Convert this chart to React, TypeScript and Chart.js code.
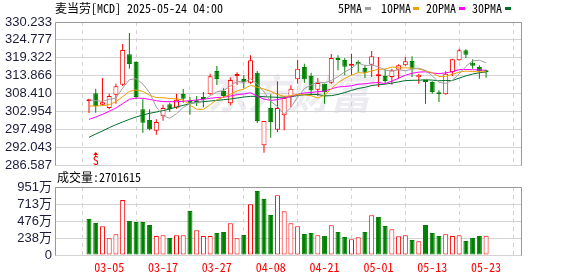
import React, { useEffect, useRef } from "react";
import { Chart, registerables } from "chart.js";

Chart.register(...registerables);

const dates = [
  "02-28", "03-03", "03-04", "03-05", "03-06", "03-07", "03-10", "03-11", "03-12", "03-13",
  "03-14", "03-17", "03-18", "03-19", "03-20", "03-21", "03-24", "03-25", "03-26", "03-27",
  "03-28", "03-31", "04-01", "04-02", "04-03", "04-04", "04-07", "04-08", "04-09", "04-10",
  "04-11", "04-14", "04-15", "04-16", "04-17", "04-21", "04-22", "04-23", "04-24", "04-25",
  "04-28", "04-29", "04-30", "05-01", "05-02", "05-05", "05-06", "05-07", "05-08", "05-09",
  "05-12", "05-13", "05-14", "05-15", "05-16", "05-19", "05-20", "05-21", "05-22", "05-23",
];

const opens = [
  306.02, 308.46, 305.0, 303.98, 308.05, 311.11, 320.36, 318.02, 303.58, 300.32,
  297.07, 301.44, 305.1, 304.09, 308.26, 306.12, 305.92, 306.93, 308.16, 315.28,
  309.17, 305.41, 313.75, 312.84, 311.72, 314.77, 292.59, 303.98, 297.37, 301.75,
  307.24, 312.73, 316.5, 313.75, 309.58, 311.41, 311.72, 318.84, 318.63, 316.9,
  318.02, 316.19, 317.21, 313.65, 313.75, 313.45, 315.68, 317.01, 318.33, 313.34,
  312.33, 311.92, 308.46, 308.16, 314.97, 318.53, 321.59, 317.82, 316.5, 315.07,
];
const highs = [
  306.83, 309.88, 313.14, 308.36, 311.41, 323.52, 326.87, 318.23, 306.63, 303.58,
  300.52, 305.0, 305.61, 308.36, 309.78, 307.24, 307.65, 308.87, 314.46, 316.8,
  309.99, 313.34, 314.87, 314.06, 320.06, 315.28, 300.02, 308.16, 312.12, 307.65,
  310.9, 318.74, 317.52, 314.77, 313.14, 311.41, 320.47, 320.06, 319.24, 320.57,
  318.53, 317.21, 321.38, 319.55, 315.99, 315.99, 317.31, 319.55, 319.75, 314.46,
  312.33, 312.12, 309.38, 315.17, 319.04, 322.09, 321.89, 318.84, 317.01, 315.68,
];
const lows = [
  302.46, 302.56, 304.8, 303.58, 305.31, 310.7, 315.99, 306.63, 296.46, 297.17,
  295.84, 300.12, 302.76, 303.78, 305.61, 301.95, 304.59, 304.19, 308.05, 311.0,
  307.24, 304.8, 311.0, 309.99, 311.41, 299.41, 290.35, 294.93, 296.66, 297.17,
  304.29, 311.41, 311.72, 308.05, 307.65, 305.31, 311.41, 315.48, 313.95, 313.95,
  314.77, 313.14, 313.45, 310.39, 311.41, 311.11, 312.94, 316.7, 313.45, 311.41,
  305.31, 308.36, 305.82, 308.05, 313.75, 318.43, 319.24, 315.99, 312.94, 313.24,
];
const closes = [
  306.63, 304.59, 305.71, 307.65, 310.6, 321.69, 317.41, 307.34, 299.51, 297.47,
  299.71, 303.98, 303.58, 306.53, 306.83, 305.61, 305.71, 306.73, 313.65, 312.84,
  307.65, 312.53, 313.95, 311.82, 318.53, 300.02, 300.02, 299.71, 303.98, 307.03,
  309.88, 315.99, 312.73, 309.38, 311.62, 308.87, 319.24, 318.63, 316.6, 317.11,
  317.31, 314.77, 319.75, 313.85, 312.23, 315.48, 317.01, 318.23, 315.99, 314.16,
  311.92, 308.87, 308.16, 314.46, 318.84, 321.59, 320.26, 316.9, 315.17, 314.87,
];

const ma5 = [
  306.43, 306.22, 306.02, 306.63, 307.04, 310.05, 312.61, 312.94, 311.31, 308.68,
  304.29, 301.6, 300.85, 302.25, 304.13, 305.31, 305.65, 306.28, 307.71, 308.91,
  309.32, 310.68, 312.12, 311.76, 312.9, 311.37, 308.87, 306.02, 304.45, 302.15,
  304.12, 307.32, 309.92, 311.0, 311.92, 311.72, 312.37, 313.55, 314.99, 316.09,
  317.78, 316.88, 317.11, 316.56, 315.58, 315.22, 315.66, 315.36, 315.79, 316.17,
  315.46, 313.83, 311.82, 311.51, 312.45, 314.38, 316.66, 318.41, 318.55, 317.76,
];
const ma10 = [
  304.59, 304.59, 304.69, 305.0, 305.92, 307.44, 309.07, 309.48, 309.07, 307.86,
  307.17, 307.11, 306.89, 306.78, 306.41, 304.8, 303.63, 303.57, 304.98, 306.52,
  307.31, 308.17, 309.2, 309.73, 310.9, 310.34, 309.77, 309.07, 308.11, 307.52,
  307.75, 308.09, 307.97, 307.73, 307.04, 307.92, 309.84, 311.74, 313.0, 314.01,
  314.75, 314.63, 315.33, 315.78, 315.84, 316.5, 316.27, 316.23, 316.17, 315.88,
  315.34, 314.75, 313.59, 313.65, 314.31, 314.92, 315.25, 315.12, 315.03, 315.1,
];
const ma20 = [
  300.52, 301.24, 302.05, 302.97, 303.98, 305.31, 306.63, 307.03, 306.93, 306.63,
  306.22, 305.92, 305.92, 305.92, 306.02, 306.22, 306.43, 306.63, 306.93, 307.19,
  307.24, 307.64, 308.05, 308.26, 308.65, 307.57, 306.7, 306.32, 306.54, 307.02,
  307.53, 308.13, 308.59, 308.73, 308.97, 309.13, 309.81, 310.4, 310.55, 310.76,
  311.25, 311.36, 311.65, 311.75, 311.44, 312.21, 313.06, 313.98, 314.59, 314.94,
  315.04, 314.69, 314.46, 314.71, 315.07, 315.71, 315.76, 315.67, 315.6, 315.49,
];
const ma30 = [
  295.03, 296.05, 296.96, 297.98, 298.9, 299.71, 300.52, 301.24, 301.85, 302.36,
  302.76, 303.17, 303.68, 304.29, 304.8, 305.31, 305.71, 305.92, 306.12, 306.32,
  306.53, 306.73, 307.03, 307.34, 307.54, 307.54, 307.44, 307.34, 307.24, 307.3,
  307.41, 307.79, 308.02, 308.08, 308.11, 307.69, 307.75, 308.12, 308.69, 309.35,
  309.94, 310.3, 310.83, 311.08, 311.26, 311.59, 311.96, 312.35, 312.43, 312.47,
  312.61, 312.49, 312.3, 312.38, 312.39, 313.11, 313.79, 314.36, 314.73, 315.0,
];

const volumes = [
  5030000, 4480000, 4010000, 2330000, 2890000, 7690000, 4750000, 4610000, 4610000, 4200000,
  2660000, 2750000, 2380000, 2750000, 2750000, 6150000, 3450000, 2660000, 2660000, 3080000,
  3220000, 4430000, 2330000, 2800000, 7090000, 8950000, 7830000, 5590000, 8340000, 6110000,
  4450000, 4010000, 2940000, 3080000, 2750000, 2660000, 4150000, 3220000, 2520000, 2190000,
  2470000, 3220000, 5550000, 5310000, 4060000, 3590000, 2610000, 2750000, 2100000, 1910000,
  4200000, 3080000, 2660000, 2890000, 2660000, 2750000, 1960000, 2380000, 2660000, 2701615,
];
// 1 = red (hollow), 0 = green (filled)
const volumeRed = [
  0, 0, 1, 1, 1, 1, 0, 0, 0, 0,
  1, 1, 0, 1, 1, 0, 1, 1, 1, 0,
  0, 1, 1, 0, 1, 0, 0, 0, 1, 1,
  1, 1, 0, 0, 1, 0, 1, 0, 0, 1,
  1, 0, 1, 0, 0, 1, 1, 1, 0, 1,
  0, 0, 0, 1, 1, 1, 0, 0, 0, 1,
];

const priceTicks = [286.587, 292.043, 297.498, 302.954, 308.41, 313.866, 319.322, 324.777, 330.233];
const volumeTicks = [0, 2377500, 4755000, 7132500, 9510000];
const volumeTickLabels = ["0", "238万", "476万", "713万", "951万"];
const xTickIndex = [3, 11, 19, 27, 35, 43, 51, 59];
const legendItems = ["5PMA", "10PMA", "20PMA", "30PMA"];
const titleText = "麦当劳[MCD] 2025-05-24 04:00";
const volumeTitle = "成交量:2701615";
const signalIndex = 1;

const RED = "#ff0000";
const GREEN = "#008000";
const MA_COLORS = ["#a0a0a0", "#f0a000", "#ff00ff", "#006f2c"];
const GRID = "#d3d3d3";
const FRAME = "#999999";
const X_MIN = -0.715;
const X_MAX = 60.0;
const MONO = '"Noto Sans Mono CJK SC", "Noto Sans CJK SC", monospace';
const AXIS_FONT = '"Liberation Sans", "Noto Sans CJK SC", sans-serif';

const framePlugin = {
  id: "frame",
  beforeDatasetsDraw(chart: any, _a: any, opts: any) {
    if (!opts || !opts.watermark) return;
    const { ctx, chartArea } = chart;
    ctx.save();
    ctx.beginPath();
    ctx.rect(chartArea.left, chartArea.top, chartArea.right - chartArea.left, chartArea.bottom - chartArea.top);
    ctx.clip();
    ctx.font = 'italic bold 41px "Noto Sans CJK SC", sans-serif';
    ctx.fillStyle = "rgba(205,205,218,0.38)";
    ctx.textBaseline = "middle";
    ctx.fillText("东方财富", 207, 93);
    ctx.restore();
  },
  afterDatasetsDraw(chart: any, _a: any, opts: any) {
    const { ctx, chartArea } = chart;
    ctx.save();
    ctx.strokeStyle = FRAME;
    ctx.lineWidth = 1;
    const l = Math.round(chartArea.left) + 0.5;
    const r = Math.round(chartArea.right) - 0.5;
    const t = Math.round(chartArea.top) + 0.5;
    const b = Math.round(chartArea.bottom) + 0.5;
    ctx.beginPath();
    ctx.moveTo(l, b);
    ctx.lineTo(l, t);
    ctx.lineTo(r, t);
    ctx.lineTo(r, b);
    ctx.stroke();
    if (opts && opts.signal) {
      const x = chart.scales.x.getPixelForValue(signalIndex);
      const bottom = chartArea.bottom;
      ctx.fillStyle = RED;
      ctx.beginPath();
      ctx.moveTo(x, bottom - 13);
      ctx.lineTo(x - 2.5, bottom - 10);
      ctx.lineTo(x + 2.5, bottom - 10);
      ctx.closePath();
      ctx.fill();
      ctx.fillRect(x - 0.5, bottom - 10, 1, 1.5);
      ctx.font = "12px " + MONO;
      ctx.textAlign = "center";
      ctx.textBaseline = "alphabetic";
      ctx.fillText("S", x, bottom - 0.5);
    }
    ctx.restore();
  },
};

function xScale(showLabels: boolean, labelHeight: number) {
  return {
    type: "linear",
    min: X_MIN,
    max: X_MAX,
    afterBuildTicks: (s: any) => {
      s.ticks = xTickIndex.map((v) => ({ value: v }));
    },
    afterFit: (s: any) => {
      s.height = labelHeight;
    },
    grid: { color: GRID, lineWidth: 1, drawTicks: false },
    border: { display: false, dash: [4, 4] },
    ticks: {
      display: showLabels,
      autoSkip: false,
      maxRotation: 0,
      padding: 5,
      color: RED,
      font: { family: MONO, size: 12 },
      callback: (v: any) => dates[Math.round(v)],
    },
  };
}

function yScale(ticks: number[], labels: string[]) {
  return {
    type: "linear",
    min: ticks[0],
    max: ticks[ticks.length - 1],
    afterBuildTicks: (s: any) => {
      s.ticks = ticks.map((v) => ({ value: v }));
    },
    afterFit: (s: any) => {
      s.width = 55;
    },
    grid: { color: GRID, lineWidth: 1, drawTicks: false },
    border: { display: false },
    ticks: {
      autoSkip: false,
      padding: 3,
      color: "#1c1c3a",
      font: { family: AXIS_FONT, size: 13 },
      callback: (_v: any, i: number) => labels[i],
    },
  };
}

export default function App() {
  const mainRef = useRef<HTMLCanvasElement>(null);
  const volRef = useRef<HTMLCanvasElement>(null);

  useEffect(() => {
    const idx = dates.map((_, i) => i);
    const up = idx.map((i) => closes[i] >= opens[i]);
    const maSets = [ma5, ma10, ma20, ma30].map((arr, k) => ({
      type: "line",
      data: idx.map((i) => ({ x: i, y: arr[i] })),
      borderColor: MA_COLORS[k],
      borderWidth: 1,
      pointRadius: 0,
      tension: 0,
      fill: false,
      order: k,
    }));

    const main = new Chart(mainRef.current as HTMLCanvasElement, {
      type: "bar",
      data: {
        datasets: [
          ...maSets,
          {
            type: "bar",
            data: idx.map((i) => ({ x: i, y: [opens[i], closes[i]] })),
            backgroundColor: idx.map((i) => (up[i] ? "#ffffff" : GREEN)),
            borderColor: idx.map((i) => (up[i] ? RED : GREEN)),
            borderWidth: 1,
            borderSkipped: false,
            barThickness: 5,
            minBarLength: 2,
            grouped: false,
            inflateAmount: 0,
            order: 10,
          },
          {
            type: "bar",
            data: idx.map((i) => ({ x: i, y: [lows[i], highs[i]] })),
            backgroundColor: idx.map((i) => (up[i] ? RED : GREEN)),
            borderWidth: 0,
            barThickness: 1,
            grouped: false,
            inflateAmount: 0,
            order: 11,
          },
        ] as any,
      },
      options: {
        responsive: false,
        animation: false,
        events: [],
        layout: { padding: { top: 22, left: 0, right: 56, bottom: 15 } },
        plugins: {
          legend: { display: false },
          tooltip: { enabled: false },
          frame: { watermark: true, signal: true },
        } as any,
        scales: {
          x: xScale(false, 0) as any,
          y: yScale(priceTicks, priceTicks.map((v) => v.toFixed(3))) as any,
        },
      },
      plugins: [framePlugin],
    });

    const vol = new Chart(volRef.current as HTMLCanvasElement, {
      type: "bar",
      data: {
        datasets: [
          {
            data: idx.map((i) => ({ x: i, y: volumes[i] })),
            backgroundColor: idx.map((i) => (volumeRed[i] ? "#ffffff" : GREEN)),
            borderColor: idx.map((i) => (volumeRed[i] ? RED : GREEN)),
            borderWidth: 1,
            borderSkipped: false,
            barThickness: 5,
            grouped: false,
            inflateAmount: 0,
          },
        ] as any,
      },
      options: {
        responsive: false,
        animation: false,
        events: [],
        layout: { padding: { top: 22, left: 0, right: 56, bottom: 0 } },
        plugins: {
          legend: { display: false },
          tooltip: { enabled: false },
          frame: { watermark: false, signal: false },
        } as any,
        scales: {
          x: xScale(true, 21) as any,
          y: yScale(volumeTicks, volumeTickLabels) as any,
        },
      },
      plugins: [framePlugin],
    });

    return () => {
      main.destroy();
      vol.destroy();
    };
  }, []);

  const legendX = [338, 381, 426, 472];
  const swatchX = [365, 413, 459, 505];

  return (
    <div
      style={{
        position: "absolute",
        left: 0,
        top: 0,
        width: 578,
        height: 276,
        background: "#ffffff",
        overflow: "hidden",
      }}
    >
      <canvas ref={mainRef} width={578} height={180} style={{ position: "absolute", left: 0, top: 0 }} />
      <canvas ref={volRef} width={578} height={111} style={{ position: "absolute", left: 0, top: 165 }} />
      <div
        style={{
          position: "absolute",
          left: 55,
          top: 1,
          font: "12px " + MONO,
          lineHeight: "14px",
          color: "#000",
          whiteSpace: "nowrap",
        }}
      >
        {titleText}
      </div>
      {legendItems.map((t, k) => (
        <React.Fragment key={t}>
          <div
            style={{
              position: "absolute",
              left: legendX[k],
              top: 1,
              font: "12px " + MONO,
              lineHeight: "14px",
              color: "#000",
              whiteSpace: "nowrap",
            }}
          >
            {t}
          </div>
          <div
            style={{
              position: "absolute",
              left: swatchX[k],
              top: 7,
              width: 6,
              height: 3,
              background: MA_COLORS[k],
            }}
          />
        </React.Fragment>
      ))}
      <div
        style={{
          position: "absolute",
          left: 57,
          top: 170,
          font: "12px " + MONO,
          lineHeight: "14px",
          color: "#000",
          whiteSpace: "nowrap",
        }}
      >
        {volumeTitle}
      </div>
    </div>
  );
}
